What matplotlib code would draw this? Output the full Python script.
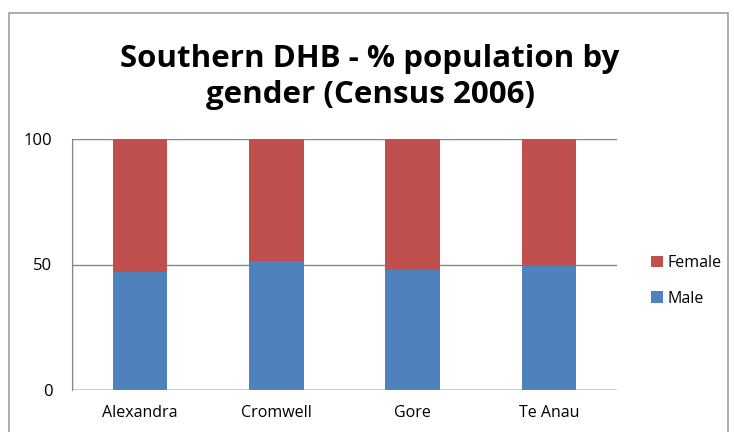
import matplotlib
matplotlib.use("Agg")
import matplotlib.pyplot as plt
from matplotlib.patches import Rectangle
import numpy as np

categories = ["Alexandra", "Cromwell", "Gore", "Te Anau"]
male = [47.0, 51.4, 47.7, 49.5]
female = [53.0, 48.6, 52.3, 50.5]
yticks = [0, 50, 100]

W, H = 734, 432
fig = plt.figure(figsize=(W / 100, H / 100), dpi=100)
fig.patch.set_facecolor("white")

# outer chart frame
fig.add_artist(Rectangle((9 / W, -0.05), (728 - 9) / W, 1.05 - 13 / H,
                         transform=fig.transFigure, fill=False,
                         edgecolor="#a0a0a0", linewidth=1.2))

font = "Open Sans"
ax = fig.add_axes([72 / W, 1 - 390 / H, (617 - 72) / W, (390 - 139) / H])
x = np.arange(len(categories))
ax.bar(x, male, width=0.4, color="#4f81bd", label="Male", zorder=3)
ax.bar(x, female, width=0.4, bottom=male, color="#c0504d", label="Female", zorder=3)

ax.set_xlim(-0.5, len(categories) - 0.5)
ax.set_ylim(0, 100)
ax.set_yticks(yticks)
ax.set_xticks(x)
ax.set_xticklabels(categories, fontsize=11.5, family=font)
ax.set_yticklabels([str(v) for v in yticks], fontsize=12, family=font)
ax.tick_params(axis="y", length=0, pad=14)
ax.tick_params(axis="x", length=0, pad=11)
ax.grid(axis="y", color="#868686", linewidth=1, zorder=0)
for s in ["top", "right", "bottom"]:
    ax.spines[s].set_visible(False)
ax.spines["left"].set_color("#868686")
ax.axhline(0, color="#868686", linewidth=1, zorder=4)
ax.axvline(-0.5, color="#868686", linewidth=1, zorder=4)

handles, labels = ax.get_legend_handles_labels()
fig.legend(handles[::-1], labels[::-1], loc="center left",
           bbox_to_anchor=(637 / W, 1 - 281 / H), frameon=False,
           prop={"family": font, "size": 11.5}, handlelength=0.7,
           handleheight=0.7, labelspacing=1.2, handletextpad=0.3)

fig.text(370 / W, 1 - 77 / H, "Southern DHB - % population by\ngender (Census 2006)",
         ha="center", va="center", fontsize=22.5, fontweight="bold",
         family=font, linespacing=1.28)

fig.savefig("out.png", dpi=100)
